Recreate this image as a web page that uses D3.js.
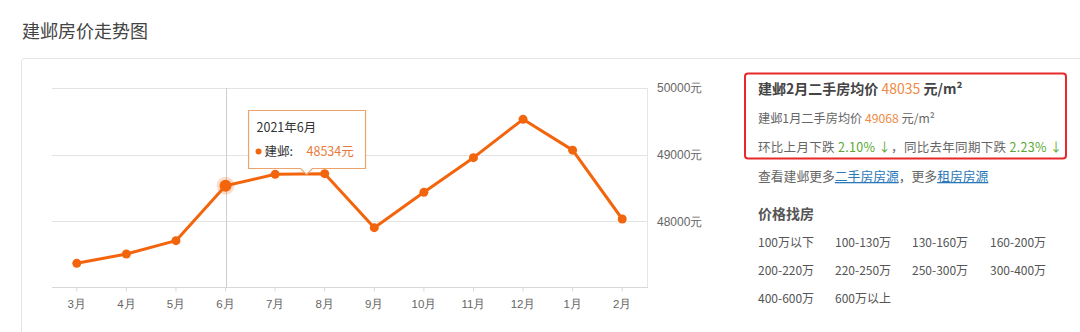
<!DOCTYPE html>
<html>
<head>
<meta charset="utf-8">
<script src="https://cdn.jsdelivr.net/npm/d3@7"></script>
<style>
  body { margin: 0; background: #fff; }
  svg { display: block; font-family: "Noto Sans CJK SC", "Noto Sans", sans-serif; }
</style>
</head>
<body>
<div id="chart"></div>
<script>
// chart data
const months = ['3月', '4月', '5月', '6月', '7月', '8月', '9月', '10月', '11月', '12月', '1月', '2月'];
const prices = [47370, 47510, 47710, 48534, 48705, 48715, 47905, 48435, 48955, 49530, 49068, 48035];
const yTicks = [48000, 49000, 50000];
const priceRanges = [
    ['100万以下', '100-130万', '130-160万', '160-200万'],
    ['200-220万', '220-250万', '250-300万', '300-400万'],
    ['400-600万', '600万以上'],
];
const focusIndex = 3;

const W = 1080;
const H = 332;
const PLOT = { left: 52, right: 647, top: 88, bottom: 288 };
const ORANGE = '#f2650d';

const svg = d3.select('#chart')
    .append('svg')
        .attr('width', W)
        .attr('height', H);

// title
svg.append('text')
    .text('建邺房价走势图')
    .attr('x', 22)
    .attr('y', 38)
    .attr('font-size', 18)
    .attr('fill', '#444');

// outer card
svg.append('rect')
    .attr('x', 21.5)
    .attr('y', 58.5)
    .attr('width', 1120)
    .attr('height', 300)
    .attr('rx', 3)
    .attr('fill', '#fff')
    .attr('stroke', '#e4e4e4');

// scales
const x = d3.scaleBand()
    .domain(months)
    .range([PLOT.left, PLOT.right]);

const y = d3.scaleLinear()
    .domain([47000, 50000])
    .range([PLOT.bottom, PLOT.top]);

const cx = (m) => x(m) + x.bandwidth() / 2;

// grid lines
svg.append('g')
    .selectAll('line')
    .data(yTicks)
    .join('line')
        .attr('x1', PLOT.left)
        .attr('x2', PLOT.right)
        .attr('y1', (d) => Math.round(y(d)) + 0.5)
        .attr('y2', (d) => Math.round(y(d)) + 0.5)
        .attr('stroke', '#e3e3e3');

// right border of the plot
svg.append('line')
    .attr('x1', PLOT.right + 0.5)
    .attr('x2', PLOT.right + 0.5)
    .attr('y1', PLOT.top)
    .attr('y2', PLOT.bottom)
    .attr('stroke', '#e6e6e6');

// right axis labels
const yAxis = d3.axisRight(y)
    .tickValues(yTicks)
    .tickSize(0)
    .tickPadding(10)
    .tickFormat((d) => d + '元');

svg.append('g')
    .attr('transform', 'translate(' + PLOT.right + ',0)')
    .call(yAxis)
    .call((g) => g.select('.domain').remove())
    .selectAll('text')
        .attr('font-size', 12)
        .attr('fill', '#666');

// bottom axis
const xAxis = d3.axisBottom(x)
    .tickSize(4)
    .tickPadding(8);

const xg = svg.append('g')
    .attr('transform', 'translate(0,' + (PLOT.bottom - 0.5) + ')')
    .call(xAxis);
xg.select('.domain').attr('stroke', '#d8d8d8').attr('d', 'M' + PLOT.left + ',0H' + (PLOT.right + 1));
xg.selectAll('.tick line').attr('stroke', '#d8d8d8');
xg.selectAll('text')
    .attr('font-size', 11.5)
    .attr('fill', '#666');

// crosshair at the focused month
svg.append('line')
    .attr('x1', Math.round(cx(months[focusIndex])) + 0.5)
    .attr('x2', Math.round(cx(months[focusIndex])) + 0.5)
    .attr('y1', PLOT.top)
    .attr('y2', PLOT.bottom)
    .attr('stroke', '#cfcfcf');

// the line
const data = months.map((m, i) => ({ month: m, price: prices[i] }));

svg.append('path')
    .datum(data)
    .attr('fill', 'none')
    .attr('stroke', ORANGE)
    .attr('stroke-width', 3)
    .attr('stroke-linejoin', 'round')
    .attr('d', d3.line()
        .x((d) => cx(d.month))
        .y((d) => y(d.price))
    );

// highlighted point halo
svg.append('circle')
    .attr('cx', cx(months[focusIndex]))
    .attr('cy', y(prices[focusIndex]))
    .attr('r', 9)
    .attr('fill', ORANGE)
    .attr('opacity', 0.22);

svg.append('g')
    .selectAll('circle')
    .data(data)
    .join('circle')
        .attr('cx', (d) => cx(d.month))
        .attr('cy', (d) => y(d.price))
        .attr('r', (d, i) => i === focusIndex ? 6 : 4.5)
        .attr('fill', ORANGE);

// tooltip
const tipX = cx(months[focusIndex]) + 23;
const tipY = 110.5;
const tipW = 117;
const tipH = 58;
const arrowX = tipX + 58;

const tip = svg.append('g');
tip.append('path')
    .attr('d', 'M' + tipX + ',' + tipY
        + 'h' + tipW + 'v' + tipH
        + 'H' + (arrowX + 6) + 'l-6,6l-6,-6'
        + 'H' + tipX + 'Z')
    .attr('fill', '#fff')
    .attr('fill-opacity', 0.95)
    .attr('stroke', '#eda46c')
    .attr('stroke-width', 1.2);
tip.append('text')
    .text('2021年6月')
    .attr('x', tipX + 8)
    .attr('y', tipY + 21)
    .attr('font-size', 12.5)
    .attr('fill', '#333');
tip.append('circle')
    .attr('cx', tipX + 10)
    .attr('cy', tipY + 41)
    .attr('r', 3)
    .attr('fill', ORANGE);
tip.append('text')
    .text('建邺:')
    .attr('x', tipX + 16)
    .attr('y', tipY + 45)
    .attr('font-size', 12.5)
    .attr('fill', '#333');
tip.append('text')
    .text(prices[focusIndex] + '元')
    .attr('x', tipX + 58)
    .attr('y', tipY + 45)
    .attr('font-size', 12.5)
    .attr('fill', '#e87b3c');

// right panel
svg.append('rect')
    .attr('x', 745)
    .attr('y', 73.5)
    .attr('width', 321)
    .attr('height', 85)
    .attr('rx', 3)
    .attr('fill', 'none')
    .attr('stroke', '#e8282b')
    .attr('stroke-width', 2);

const head = svg.append('text')
    .attr('x', 758)
    .attr('y', 94)
    .attr('font-size', 14)
    .attr('fill', '#444');
head.append('tspan').text('建邺2月二手房均价 ').attr('font-weight', 'bold');
head.append('tspan').text(prices[prices.length - 1]).attr('fill', '#f08a46');
head.append('tspan').text(' 元/m²').attr('font-weight', 'bold');

const prev = svg.append('text')
    .attr('x', 758)
    .attr('y', 123)
    .attr('font-size', 12.2)
    .attr('fill', '#666');
prev.append('tspan').text('建邺1月二手房均价 ');
prev.append('tspan').text(prices[prices.length - 2]).attr('fill', '#f08a46');
prev.append('tspan').text(' 元/m²');

const change = svg.append('text')
    .attr('x', 758)
    .attr('y', 152)
    .attr('font-size', 12.5)
    .attr('letter-spacing', 0.3)
    .attr('fill', '#666');
change.append('tspan').text('环比上月下跌 ');
change.append('tspan').text('2.10% ↓').attr('fill', '#5aa832');
change.append('tspan').text('，同比去年同期下跌 ');
change.append('tspan').text('2.23% ↓').attr('fill', '#5aa832');

const more = svg.append('text')
    .attr('x', 758)
    .attr('y', 181)
    .attr('font-size', 12.8)
    .attr('fill', '#666');
more.append('tspan').text('查看建邺更多');
more.append('tspan').text('二手房房源').attr('fill', '#2a78b8').attr('text-decoration', 'underline');
more.append('tspan').text('，更多');
more.append('tspan').text('租房房源').attr('fill', '#2a78b8').attr('text-decoration', 'underline');

svg.append('text')
    .text('价格找房')
    .attr('x', 758)
    .attr('y', 219)
    .attr('font-size', 14)
    .attr('font-weight', 'bold')
    .attr('fill', '#555');

const colX = [758, 835, 912, 990];
const rowY = [247, 275, 303];

priceRanges.forEach((row, r) => {
    svg.append('g')
        .selectAll('text')
        .data(row)
        .join('text')
            .text((d) => d)
            .attr('x', (d, c) => colX[c])
            .attr('y', rowY[r])
            .attr('font-size', 12)
            .attr('fill', '#555');
});
</script>
</body>
</html>
